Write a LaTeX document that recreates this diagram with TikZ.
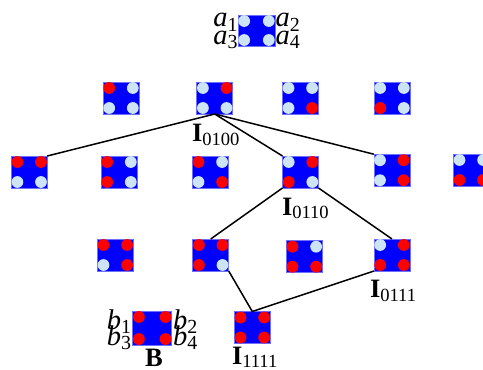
\documentclass[tikz,border=0pt]{standalone}
\usepackage{amsmath}
\usepackage{fontspec}
\setmainfont{Liberation Serif}
\definecolor{lb}{RGB}{204,228,244}
\definecolor{rd}{RGB}{255,0,0}
\definecolor{bl}{RGB}{0,0,255}
\definecolor{bledge}{RGB}{110,110,255}
\newcommand{\qbox}[7][]{%
  \node[qb,#1] (#2) at (#3) {};
  \fill[#4] ([xshift=6.2pt,yshift=-6pt]#2.north west) circle[radius=5.9pt];
  \fill[#5] ([xshift=-6.2pt,yshift=-6pt]#2.north east) circle[radius=5.9pt];
  \fill[#6] ([xshift=6.2pt,yshift=6pt]#2.south west) circle[radius=5.9pt];
  \fill[#7] ([xshift=-6.2pt,yshift=6pt]#2.south east) circle[radius=5.9pt];
}
\begin{document}
\begin{tikzpicture}[x=1pt,y=-1pt,
  qb/.style={rectangle,fill=bl,draw=bledge,line width=0.5pt,minimum width=36pt,minimum height=32pt,inner sep=0pt,outer sep=0pt},
  conn/.style={draw=black,line width=1.5pt},
  lab/.style={inner sep=0pt,outer sep=0pt,font=\fontsize{26.5}{28}\selectfont},
  vlab/.style={inner sep=0pt,outer sep=0pt,font=\fontsize{28.5}{30}\selectfont}]
\useasboundingbox (0,0) rectangle (483,370);
% top legend box
\qbox[minimum width=37pt,minimum height=31pt]{A}{256.5,30.5}{lb}{lb}{lb}{lb}
\node[vlab,anchor=base east] (a1) at (238,26.7) {$\textit{a}_{\text{1}}$};
\node[vlab,anchor=base east] (a3) at (238,44.3) {$\textit{a}_{\text{3}}$};
\node[vlab,anchor=base west] (a2) at (275.5,26.7) {$\textit{a}_{\text{2}}$};
\node[vlab,anchor=base west] (a4) at (275.5,44.3) {$\textit{a}_{\text{4}}$};
% row 1
\qbox{r1a}{121,98}{rd}{lb}{lb}{lb}
\qbox{r1b}{214.7,98}{lb}{rd}{lb}{lb}
\qbox{r1c}{300.3,98}{lb}{lb}{lb}{rd}
\qbox{r1d}{392,98}{lb}{lb}{rd}{lb}
% row 2
\qbox{r2a}{29.2,172}{rd}{rd}{lb}{lb}
\qbox{r2b}{119,172}{rd}{lb}{rd}{lb}
\qbox{r2c}{210.3,172}{rd}{lb}{lb}{rd}
\qbox{r2d}{300.5,172}{lb}{rd}{rd}{lb}
\qbox{r2e}{391.8,170.2}{lb}{rd}{lb}{rd}
\qbox{r2f}{471.3,170}{lb}{lb}{rd}{rd}
% row 3
\qbox{r3a}{115.3,255}{rd}{rd}{lb}{rd}
\qbox{r3b}{210.7,255}{rd}{rd}{rd}{lb}
\qbox{r3c}{304.3,256.7}{rd}{lb}{rd}{rd}
\qbox{r3d}{392,255}{lb}{rd}{rd}{rd}
% row 4
\qbox[minimum width=39pt,minimum height=34pt]{B}{152.2,328}{rd}{rd}{rd}{rd}
\qbox{r4b}{252.3,327.5}{rd}{rd}{rd}{rd}
\node[vlab,anchor=base east] (b1) at (131.5,329) {$\textit{b}_{\text{1}}$};
\node[vlab,anchor=base east] (b3) at (131.5,345) {$\textit{b}_{\text{3}}$};
\node[vlab,anchor=base west] (b2) at (173,329) {$\textit{b}_{\text{2}}$};
\node[vlab,anchor=base west] (b4) at (173,345) {$\textit{b}_{\text{4}}$};
\node[lab,anchor=base] (Blab) at (154,366.5) {\textbf{B}};
% labels
\node[lab,anchor=base west] (l0100) at (192,141.7) {$\textbf{I}_{\text{0100}}$};
\node[lab,anchor=base west] (l0110) at (282,215) {$\textbf{I}_{\text{0110}}$};
\node[lab,anchor=base west] (l0111) at (370,297.3) {$\textbf{I}_{\text{0111}}$};
\node[lab,anchor=base west] (l1111) at (232,364) {$\textbf{I}_{\text{1111}}$};
% connectors
\draw[conn] (r1b.south) -- (r2a.north east);
\draw[conn] (r1b.south) -- (r2d.north west);
\draw[conn] (r1b.south) -- (r2e.north west);
\draw[conn] (r2d.south west) -- (r3b.north);
\draw[conn] (r2d.south east) -- (r3d.north);
\draw[conn] (r3b.south east) -- (r4b.north);
\draw[conn] (r4b.north) -- (r3d.south west);
\end{tikzpicture}
\end{document}
